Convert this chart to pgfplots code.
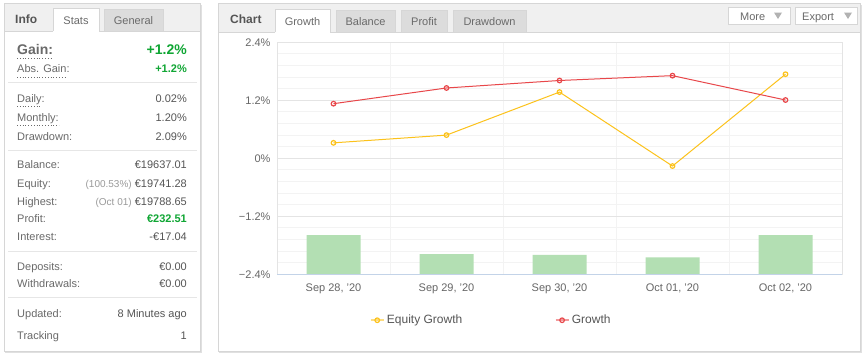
\documentclass[border=0pt]{standalone}
\usepackage{pgfplots}
\pgfplotsset{compat=1.18}
\usepackage{fontspec}
\setmainfont{Liberation Sans}
\definecolor{pborder}{HTML}{D6D6D6}
\definecolor{hdr}{HTML}{F0F0F0}
\definecolor{tabin}{HTML}{DCDCDC}
\definecolor{lab}{HTML}{6A6A6A}
\definecolor{val}{HTML}{555555}
\definecolor{light}{HTML}{9A9A9A}
\definecolor{gr}{HTML}{10A634}
\definecolor{sep}{HTML}{E6E6E6}
\definecolor{gridmaj}{HTML}{E4E4E4}
\definecolor{gridmin}{HTML}{F3F3F3}
\definecolor{redl}{HTML}{E8474A}
\definecolor{yel}{HTML}{FCC21B}
\definecolor{barg}{HTML}{B3DFB3}
\definecolor{axblue}{HTML}{C3D3E8}
\definecolor{tick}{HTML}{666666}
\newcommand\fs[1]{\fontsize{#1}{#1}\selectfont}
\begin{document}
\begin{tikzpicture}
\begin{scope}[x=1pt,y=-1pt]
\path[use as bounding box] (0,0) rectangle (866,356);
% ---------- left panel
\fill[black!12] (5,5) rectangle (202,353);
\fill[white] (4,3) rectangle (200,351);
\draw[pborder] (4,3) rectangle (200,351);
\fill[hdr] (4.5,3.5) rectangle (199.5,31);
\draw[pborder] (4,31) -- (53,31);
\draw[pborder] (99,31) -- (200,31);
\fill[white] (53,8) rectangle (99,31.5);
\draw[pborder] (53,31) -- (53,8) -- (99,8) -- (99,31);
\fill[tabin] (104,9) rectangle (163,31);
\draw[pborder] (104,31) -- (104,9) -- (163,9) -- (163,31);
\node[anchor=base west,inner sep=0,text=val] at (15,23) {\fs{12}\bfseries Info};
\node[anchor=base,inner sep=0,text=lab] at (76,24) {\fs{11}Stats};
\node[anchor=base,inner sep=0,text=lab] at (133.5,24) {\fs{11}General};
% rows
\node[anchor=base west,inner sep=0,text=lab] at (17,54) {\fs{14}\bfseries Gain:};
\node[anchor=base east,inner sep=0,text=gr] at (187,54) {\fs{14}\bfseries +1.2\%};
\node[anchor=base west,inner sep=0,text=lab] at (17,72) {\fs{11}Abs. Gain:};
\node[anchor=base east,inner sep=0,text=gr] at (187,72) {\fs{11}\bfseries +1.2\%};
\draw[lab,dotted,line width=0.8] (17,58.5) -- (52,58.5);
\draw[lab,dotted,line width=0.8] (17,77) -- (67,77);
\draw[sep] (8,82) -- (197,82);
\node[anchor=base west,inner sep=0,text=lab] at (17,102) {\fs{11}Daily:};
\node[anchor=base east,inner sep=0,text=val] at (187,102) {\fs{11}0.02\%};
\node[anchor=base west,inner sep=0,text=lab] at (17,121) {\fs{11}Monthly:};
\node[anchor=base east,inner sep=0,text=val] at (187,121) {\fs{11}1.20\%};
\draw[lab,dotted,line width=0.8] (17,106.5) -- (40,106.5);
\draw[lab,dotted,line width=0.8] (17,125.5) -- (59,125.5);
\node[anchor=base west,inner sep=0,text=lab] at (17,140) {\fs{11}Drawdown:};
\node[anchor=base east,inner sep=0,text=val] at (187,140) {\fs{11}2.09\%};
\draw[sep] (8,150) -- (197,150);
\node[anchor=base west,inner sep=0,text=lab] at (17,168) {\fs{11}Balance:};
\node[anchor=base east,inner sep=0,text=val] at (187,168) {\fs{11}€19637.01};
\node[anchor=base west,inner sep=0,text=lab] at (17,187) {\fs{11}Equity:};
\node[anchor=base east,inner sep=0,text=val] at (187,187) {\fs{11}{\fs{10}\color{light}(100.53\%)} €19741.28};
\node[anchor=base west,inner sep=0,text=lab] at (17,205) {\fs{11}Highest:};
\node[anchor=base east,inner sep=0,text=val] at (187,205) {\fs{11}{\fs{10}\color{light}(Oct 01)} €19788.65};
\node[anchor=base west,inner sep=0,text=lab] at (17,222) {\fs{11}Profit:};
\node[anchor=base east,inner sep=0,text=gr] at (187,222) {\fs{11}\bfseries €232.51};
\node[anchor=base west,inner sep=0,text=lab] at (17,240) {\fs{11}Interest:};
\node[anchor=base east,inner sep=0,text=val] at (187,240) {\fs{11}-€17.04};
\draw[sep] (8,251) -- (197,251);
\node[anchor=base west,inner sep=0,text=lab] at (17,270) {\fs{11}Deposits:};
\node[anchor=base east,inner sep=0,text=val] at (187,270) {\fs{11}€0.00};
\node[anchor=base west,inner sep=0,text=lab] at (17,287) {\fs{11}Withdrawals:};
\node[anchor=base east,inner sep=0,text=val] at (187,287) {\fs{11}€0.00};
\draw[sep] (8,297) -- (197,297);
\node[anchor=base west,inner sep=0,text=lab] at (17,317) {\fs{11}Updated:};
\node[anchor=base east,inner sep=0,text=val] at (187,317) {\fs{11}8 Minutes ago};
\node[anchor=base west,inner sep=0,text=lab] at (17,339) {\fs{11}Tracking};
\node[anchor=base east,inner sep=0,text=val] at (187,339) {\fs{11}1};
% ---------- right panel
\fill[black!12] (219,5) rectangle (862,353);
\fill[white] (218,3) rectangle (860,351);
\draw[pborder] (218,3) rectangle (860,351);
\fill[hdr] (218.5,3.5) rectangle (859.5,32);
\draw[pborder] (218,32) -- (275,32);
\draw[pborder] (330,32) -- (860,32);
\fill[white] (275,9) rectangle (330,32.5);
\draw[pborder] (275,32) -- (275,9) -- (330,9) -- (330,32);
\foreach \a/\b in {336/395,401/447,453/526}{
  \fill[tabin] (\a,10) rectangle (\b,32);
  \draw[pborder] (\a,32) -- (\a,10) -- (\b,10) -- (\b,32);
}
\node[anchor=base west,inner sep=0,text=val] at (230,23) {\fs{12}\bfseries Chart};
\node[anchor=base,inner sep=0,text=lab] at (302.5,25) {\fs{11}Growth};
\node[anchor=base,inner sep=0,text=lab] at (365.5,25) {\fs{11}Balance};
\node[anchor=base,inner sep=0,text=lab] at (424,25) {\fs{11}Profit};
\node[anchor=base,inner sep=0,text=lab] at (489.5,25) {\fs{11}Drawdown};
\fill[white] (728,7) rectangle (790,24);
\draw[pborder] (728,7) rectangle (790,24);
\fill[white] (795,7) rectangle (857,24);
\draw[pborder] (795,7) rectangle (857,24);
\node[anchor=base west,inner sep=0,text=lab] at (740,20) {\fs{11}More};
\node[anchor=base west,inner sep=0,text=lab] at (802,20) {\fs{11}Export};
\fill[black!30] (774,12.5) -- (782,12.5) -- (778,19) -- cycle;
\fill[black!30] (844,12.5) -- (852,12.5) -- (848,19) -- cycle;
\end{scope}
% ---------- chart axis
\begin{axis}[at={(277pt,-274.3pt)}, anchor=south west, scale only axis,
  width=565pt, height=232pt,
  xmin=-0.5, xmax=4.5, ymin=-2.4, ymax=2.4,
  xtick={0,1,2,3,4},
  xticklabels={{Sep 28, '20},{Sep 29, '20},{Sep 30, '20},{Oct 01, '20},{Oct 02, '20}},
  minor xtick={0.5,1.5,2.5,3.5}, xminorgrids,
  ytick={-2.4,-1.2,0,1.2,2.4},
  yticklabels={−2.4\%,−1.2\%,0\%,1.2\%,2.4\%},
  minor ytick={-2.16,-1.92,-1.68,-1.44,-0.96,-0.72,-0.48,-0.24,0.24,0.48,0.72,0.96,1.44,1.68,1.92,2.16},
  ymajorgrids, yminorgrids,
  major grid style={draw=gridmaj, line width=1pt},
  minor grid style={draw=gridmin, line width=1pt},
  axis line style={draw=gridmaj, line width=1pt},
  major tick length=0pt, minor tick length=0pt,
  tick label style={font=\fs{11}, text=tick},
  yticklabel style={xshift=-3pt},
  xticklabel style={yshift=-6pt},
  legend columns=2,
  legend style={at={(0.158,-0.198)}, anchor=west, draw=none, fill=none,
    font=\fs{12}, text=val,
    /tikz/every even column/.append style={column sep=90pt}},
  legend image code/.code={\draw[#1,line width=2.5pt,opacity=0.55] (0pt,0pt) -- (13pt,0pt);
     \draw[#1,only marks] plot coordinates {(6.5pt,0pt)};},
]
\addplot[yel, line width=1pt, mark=o, mark size=2.3pt, mark options={fill=white, line width=1.2pt}]
  coordinates {(0,0.32) (1,0.48) (2,1.37) (3,-0.16) (4,1.74)};
\addlegendentry{Equity Growth}
\addplot[redl, line width=1pt, mark=o, mark size=2.3pt, mark options={fill=white, line width=1.2pt}]
  coordinates {(0,1.13) (1,1.455) (2,1.61) (3,1.71) (4,1.206)};
\addlegendentry{Growth}
\end{axis}
\begin{axis}[at={(277pt,-274.3pt)}, anchor=south west, scale only axis,
  width=565pt, height=232pt,
  xmin=-0.5, xmax=4.5, ymin=0, ymax=4.8, hide axis, clip=false]
\addplot[ybar, bar width=54pt, bar shift=0pt, fill=barg, draw=none]
  coordinates {(0,0.813) (1,0.42) (2,0.40) (3,0.352) (4,0.813)};
\draw[axblue, line width=1pt] (axis cs:-0.5,0) -- (axis cs:4.5,0);
\end{axis}
\end{tikzpicture}
\end{document}
